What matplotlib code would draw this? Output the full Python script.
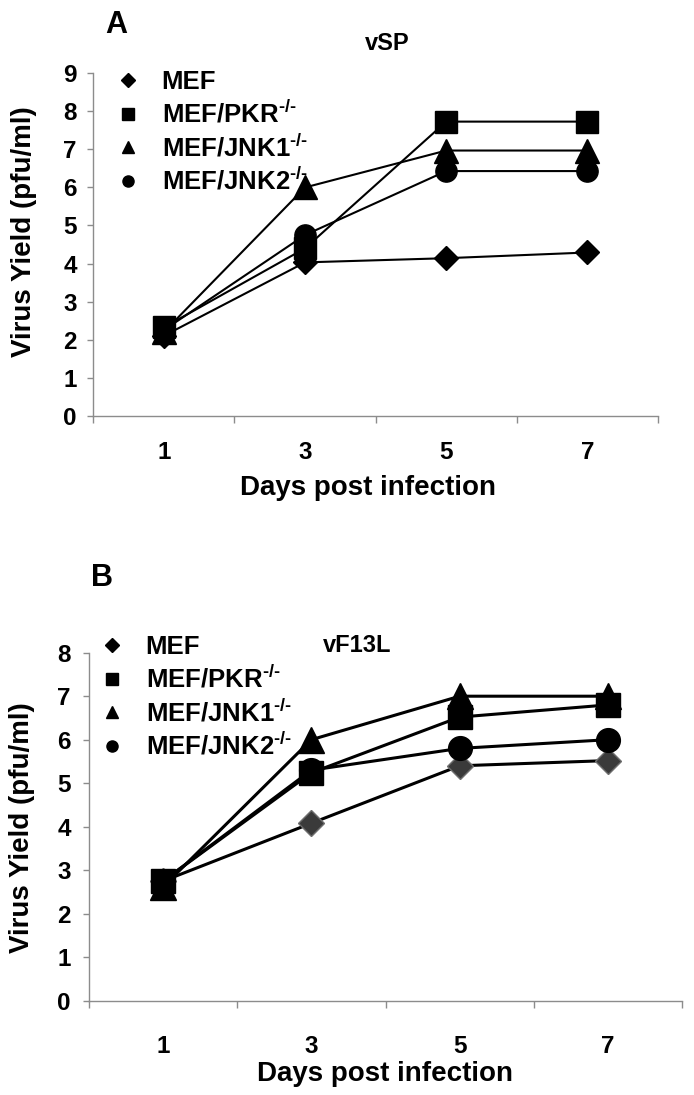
import matplotlib
matplotlib.use("Agg")
import matplotlib.pyplot as plt
from matplotlib.lines import Line2D

plt.rcParams['font.family'] = ['Liberation Sans', 'DejaVu Sans']
plt.rcParams['font.weight'] = 'bold'
plt.rcParams['mathtext.fontset'] = 'custom'
plt.rcParams['mathtext.rm'] = 'Liberation Sans:bold'
plt.rcParams['mathtext.bf'] = 'Liberation Sans:bold'
plt.rcParams['mathtext.default'] = 'rm'

# ---- data ----
days = ["1", "3", "5", "7"]
series_names = ["MEF", r"MEF/PKR$^{\text{-/-}}$", r"MEF/JNK1$^{\text{-/-}}$", r"MEF/JNK2$^{\text{-/-}}$"]

vsp_mef = [2.10, 4.03, 4.14, 4.29]
vsp_pkr = [2.32, 4.40, 7.73, 7.73]
vsp_jnk1 = [2.20, 6.00, 6.97, 6.97]
vsp_jnk2 = [2.25, 4.75, 6.43, 6.43]

vf13l_mef = [2.75, 4.08, 5.40, 5.52]
vf13l_pkr = [2.75, 5.24, 6.52, 6.80]
vf13l_jnk1 = [2.62, 6.00, 7.00, 7.00]
vf13l_jnk2 = [2.75, 5.30, 5.80, 6.00]

W, H = 694, 1095
fig = plt.figure(figsize=(W / 100, H / 100), dpi=100)


def fx(px):
    return px / W


def fy(py):
    return 1 - py / H


def style_axes(ax, ymax, xpad, ypad):
    x = list(range(len(days)))
    ax.set_xlim(-0.5, len(days) - 0.5)
    ax.set_ylim(0, ymax)
    for s in ['top', 'right']:
        ax.spines[s].set_visible(False)
    for s in ['left', 'bottom']:
        ax.spines[s].set_color('#8c8c8c')
        ax.spines[s].set_linewidth(1.0)
    ax.set_xticks([i - 0.5 for i in range(len(days) + 1)])
    ax.set_xticklabels([])
    ax.set_xticks(x, minor=True)
    ax.set_xticklabels(days, minor=True, fontsize=17.5, fontweight='bold')
    ax.tick_params(axis='x', which='major', length=5, color='#8c8c8c', width=1.0, direction='out')
    ax.tick_params(axis='x', which='minor', length=0, pad=xpad)
    ax.set_yticks(range(0, ymax + 1))
    ax.set_yticklabels([str(v) for v in range(0, ymax + 1)], fontsize=17.5, fontweight='bold')
    ax.tick_params(axis='y', length=4, color='#8c8c8c', width=1.0, pad=ypad, direction='out')
    ax.patch.set_visible(False)


def plot_panel(ax, series, ms, lw, mef_face, mef_edge):
    x = list(range(len(days)))
    markers = ['D', 's', '^', 'o']
    sizes = [ms * 0.72, ms * 0.9, ms, ms * 0.9]
    for i, (vals, mk, sz) in enumerate(zip(series, markers, sizes)):
        fc = mef_face if i == 0 else 'black'
        ec = mef_edge if i == 0 else 'black'
        ax.plot(x, vals, color='black', lw=lw, marker=mk, markersize=sz,
                markerfacecolor=fc, markeredgecolor=ec, markeredgewidth=1.0,
                zorder=3 + i, clip_on=False)


def add_legend(ax, anchor_px, fontsize, spacing):
    markers = ['D', 's', '^', 'o']
    msz = [7, 8, 9, 8]
    handles = [Line2D([], [], ls='none', marker=m, markersize=s, color='black') for m, s in zip(markers, msz)]
    leg = ax.legend(handles, series_names, loc='upper left',
                    bbox_to_anchor=(fx(anchor_px[0]), fy(anchor_px[1])),
                    bbox_transform=fig.transFigure, frameon=False,
                    prop={'size': fontsize, 'weight': 'bold'},
                    handlelength=0.8, handletextpad=0.9, labelspacing=spacing,
                    borderpad=0, borderaxespad=0)
    return leg


# ---- Panel A ----
axA = fig.add_axes([fx(93.3), fy(415.7), fx(658) - fx(93.3), fy(73.3) - fy(415.7)])
style_axes(axA, 9, xpad=18, ypad=8)
plot_panel(axA, [vsp_mef, vsp_pkr, vsp_jnk1, vsp_jnk2], ms=17, lw=1.5,
           mef_face='black', mef_edge='black')
add_legend(axA, (118, 70), 18.5, 0.25)
axA.set_xlabel("Days post infection", fontsize=20, fontweight='bold')
axA.xaxis.set_label_coords(fx(368), fy(488), transform=fig.transFigure)
axA.xaxis.label.set_va('center')
axA.set_ylabel("Virus Yield (pfu/ml)", fontsize=20, fontweight='bold', va='center', ha='center')
axA.yaxis.set_label_coords(fx(24), fy(232), transform=fig.transFigure)
fig.text(fx(116), fy(25), "A", fontsize=22, fontweight='bold', ha='center', va='center')
fig.text(fx(387), fy(43), "vSP", fontsize=17, fontweight='bold', ha='center', va='center')

# ---- Panel B ----
axB = fig.add_axes([fx(89), fy(1000.7), fx(682) - fx(89), fy(652.7) - fy(1000.7)])
style_axes(axB, 8, xpad=25, ypad=9)
plot_panel(axB, [vf13l_mef, vf13l_pkr, vf13l_jnk1, vf13l_jnk2], ms=19, lw=2.2,
           mef_face='#3a3a3a', mef_edge='#6e6e6e')
add_legend(axB, (102, 635), 18.5, 0.25)
axB.set_xlabel("Days post infection", fontsize=20, fontweight='bold')
axB.xaxis.set_label_coords(fx(385), fy(1074), transform=fig.transFigure)
axB.xaxis.label.set_va('center')
axB.set_ylabel("Virus Yield (pfu/ml)", fontsize=20, fontweight='bold', va='center', ha='center')
axB.yaxis.set_label_coords(fx(22), fy(828), transform=fig.transFigure)
fig.text(fx(102), fy(578), "B", fontsize=22, fontweight='bold', ha='center', va='center')
fig.text(fx(357), fy(645), "vF13L", fontsize=17, fontweight='bold', ha='center', va='center')

fig.savefig("out.png", dpi=100, facecolor='white')
